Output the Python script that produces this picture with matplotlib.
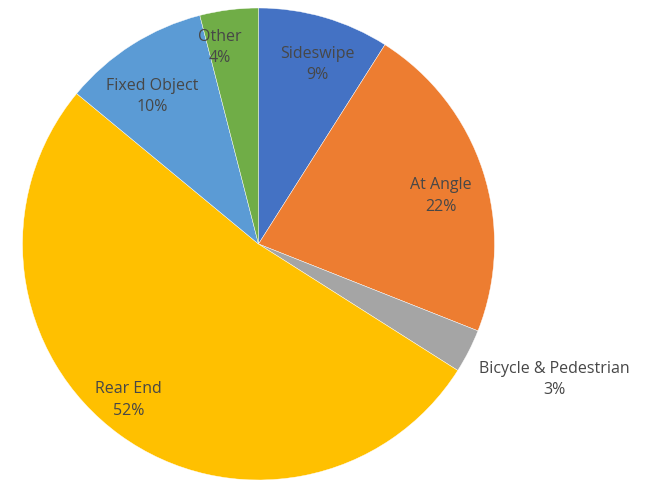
import numpy as np
import matplotlib.pyplot as plt

categories = ['Sideswipe', 'At Angle', 'Bicycle & Pedestrian', 'Rear End', 'Fixed Object', 'Other']
shares = [9, 22, 3, 52, 10, 4]
colors = ['#4472C4', '#ED7D31', '#A5A5A5', '#FFC000', '#5B9BD5', '#70AD47']
# label distance from centre (in radii) and small angle nudge (deg)
label_r = [0.80, 0.80, 1.38, 0.86, 0.77, 0.85]
label_da = [-2.0, -3.3, 2.4, -3.7, 3.5, 4.0]

plt.rcParams['font.family'] = ['Open Sans', 'DejaVu Sans']

fig = plt.figure(figsize=(6.48, 4.8), dpi=100)
ax = fig.add_axes([22.5 / 648, 0.0, 472 / 648, 472 / 480])
wedges, _ = ax.pie(shares, colors=colors, startangle=90, counterclock=False,
                   radius=1.0, wedgeprops=dict(edgecolor='white', linewidth=0.3))
ax.set_xlim(-1, 1)
ax.set_ylim(-1, 1)
ax.set_aspect('equal')
ax.axis('off')

for w, name, val, r, da in zip(wedges, categories, shares, label_r, label_da):
    ang = np.deg2rad((w.theta1 + w.theta2) / 2 + da)
    ax.text(r * np.cos(ang), r * np.sin(ang), f'{name}\n{val}%', ha='center', va='center',
            fontsize=11.5, color='#474747', linespacing=1.45, clip_on=False)

fig.savefig('out.png', dpi=100)
